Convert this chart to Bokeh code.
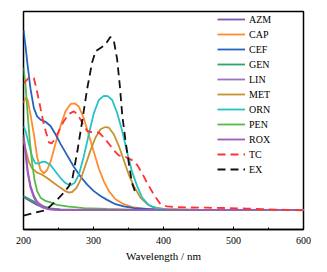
from bokeh.plotting import figure
from bokeh.models import Range1d, Legend, LegendItem, SingleIntervalTicker
from bokeh.embed import file_html
from bokeh.resources import INLINE

# ---- data ----
azm_x = [200, 210, 219.5, 229, 238.6, 252.9, 300, 400, 500, 600]
azm_y = [14.9, 13.0, 11.3, 10.0, 9.25, 9.0, 9.0, 9.0, 9.0, 9.0]

cap_x = [200, 202.9, 206, 210, 214.8, 219.5, 224.3, 229, 233.8, 238.6, 245.7, 252.9, 260, 267, 272.9,
         279, 286, 293, 300.5, 307.6, 314.8, 322, 331.4, 343.3, 357.6, 372, 391, 450, 600]
cap_y = [57.9, 60.4, 59.4, 52.7, 43.7, 33.3, 27.3, 25.8, 27.3, 31.0, 39.3, 47.5, 54.2, 57.5, 57.9,
         56.4, 51.2, 43.7, 35.5, 28.0, 22.1, 17.6, 13.9, 11.6, 10.1, 9.4, 9.1, 9.0, 9.0]

cef_x = [200, 202.9, 206, 210, 214.8, 219.5, 224.3, 231.4, 238.6, 245.7, 252.9, 262.4, 271.9, 281.4,
         291, 300.5, 310, 319.5, 331.4, 343.3, 357.6, 376.7, 405, 500, 600]
cef_y = [91.5, 84.0, 75.0, 64.6, 55.7, 51.9, 50.4, 49.4, 47.5, 43.7, 39.3, 34.0, 28.8, 24.3,
         20.6, 17.6, 15.4, 13.6, 11.6, 10.6, 9.85, 9.4, 9.1, 9.0, 9.0]

gen_x = [200, 210, 219.5, 229, 238.6, 252.9, 286, 400, 600]
gen_y = [15.4, 13.6, 12.1, 10.6, 9.7, 9.25, 9.0, 9.0, 9.0]

lin_x = [200, 202.9, 206, 210, 214.8, 219.5, 226.7, 236.2, 252.9, 400, 600]
lin_y = [42.2, 34.8, 25.8, 19.1, 14.6, 12.1, 10.1, 9.25, 9.0, 9.0, 9.0]

met_x = [200, 202.9, 207.6, 212.4, 219.5, 226.7, 233.8, 243.3, 252.9, 260, 264.8, 269.5, 275.7, 281.4,
         288.6, 295.7, 302.9, 310, 317, 322, 329, 336, 343.3, 350.5, 357.6, 367, 376.7, 386, 400.5, 450, 600]
met_y = [40.7, 37.0, 31.0, 28.0, 26.1, 25.1, 23.6, 21.3, 19.1, 17.6, 16.9, 17.2, 19.1, 22.8,
         29.6, 36.3, 42.2, 46.0, 47.0, 46.7, 43.7, 38.5, 31.8, 25.1, 19.9, 14.6, 11.6, 10.1, 9.4, 9.0, 9.0]

orn_x = [200, 202.9, 207.6, 212.4, 217.1, 221.9, 226.7, 231.4, 238.6, 245.7, 252.9, 260, 267, 272.9,
         279, 286, 293.3, 300.5, 307.6, 314.8, 320.5, 326.7, 333.8, 341, 348, 355, 362.4, 369.5, 379,
         391, 405, 450, 600]
orn_y = [47.5, 45.2, 39.3, 33.3, 30.3, 30.3, 31.0, 31.0, 29.6, 26.6, 23.6, 21.3, 20.3, 21.3,
         25.1, 33.3, 43.7, 53.4, 59.4, 61.3, 61.2, 59.4, 53.4, 45.2, 35.5, 26.6, 19.9, 14.6, 11.2,
         9.7, 9.25, 9.0, 9.0]

pen_x = [200, 202.9, 206, 209, 212.4, 215.7, 219.5, 224.3, 231.4, 238.6, 248, 262.4, 286, 319.5, 357.6, 420, 600]
pen_y = [74.3, 66.1, 52.7, 40.7, 30.3, 22.8, 17.6, 14.6, 13.1, 12.4, 11.3, 10.6, 9.85, 9.4, 9.1, 9.0, 9.0]

rox_x = [200, 202.9, 206, 210, 214.8, 219.5, 226.7, 236.2, 252.9, 400, 600]
rox_y = [43.5, 36.0, 27.0, 20.0, 15.5, 12.8, 10.6, 9.5, 9.0, 9.0, 9.0]

tc_x = [200, 207.6, 212, 214.8, 219.5, 224.3, 229, 236.2, 240, 243.3, 250.5, 257.6, 264.8, 271.9, 277.6, 283.8,
        291, 298, 307.6, 314.8, 322, 329, 336, 345.7, 355, 362.4, 369.5, 376.7, 386, 395.7, 405,
        414.8, 433.8, 462, 491, 519.5, 548, 576.7, 600]
tc_y = [66.9, 69.5, 69.9, 69.5, 63.1, 55.7, 48.2, 40.0, 39.5, 40.7, 45.2, 49.7, 53.0, 54.2, 52.7, 49.0,
        45.2, 44.5, 44.5, 42.2, 39.3, 36.3, 34.0, 33.3, 31.8, 29.6, 25.8, 21.3, 16.1, 11.6, 10.6,
        10.3, 10.1, 10.0, 9.85, 9.6, 9.3, 9.0, 8.8]

ex_x = [200, 215, 229, 236, 246, 255, 265, 270, 277, 284, 291, 298, 303, 310, 317, 324, 329,
        333.8, 337.6, 341, 345.7, 350.5, 355, 360]
ex_y = [6.4, 7.6, 8.7, 10.1, 13.0, 16.0, 19.9, 23.6, 36.0, 50.0, 64.6, 76.6, 81.8, 83.3, 84.8, 88.3, 86.7,
        78.0, 66.0, 52.7, 40.7, 30.3, 21.3, 16.9]

names = ["AZM", "CAP", "CEF", "GEN", "LIN", "MET", "ORN", "PEN", "ROX", "TC", "EX"]
colors = ["#7f55b0", "#ff8c2e", "#2563bf", "#2fa56c", "#9a72c6", "#c8922e", "#26c2c6",
          "#58b84a", "#a457b6", "#ff3333", "#111111"]
series = [(azm_x, azm_y), (cap_x, cap_y), (cef_x, cef_y), (gen_x, gen_y), (lin_x, lin_y),
          (met_x, met_y), (orn_x, orn_y), (pen_x, pen_y), (rox_x, rox_y), (tc_x, tc_y), (ex_x, ex_y)]

FONT = "Liberation Serif"

p = figure(width=318, height=264, output_backend="svg", toolbar_location=None,
           x_range=Range1d(200, 600), y_range=Range1d(0, 100),
           min_border_left=23, min_border_right=15, min_border_top=11, min_border_bottom=30)
p.background_fill_color = "white"
p.border_fill_color = "white"
p.xgrid.visible = False
p.ygrid.visible = False
p.yaxis.visible = False
p.outline_line_color = "black"
p.outline_line_width = 1.5
p.outline_line_alpha = 1.0

xa = p.xaxis[0]
xa.ticker = SingleIntervalTicker(interval=100, num_minor_ticks=2)
xa.axis_line_color = "black"
xa.axis_line_width = 1.5
xa.major_tick_in = 3
xa.major_tick_out = 0
xa.minor_tick_in = 2
xa.minor_tick_out = 0
xa.major_tick_line_width = 1
xa.minor_tick_line_width = 1
xa.major_label_text_font = FONT
xa.major_label_text_font_size = "10px"
xa.major_label_text_color = "black"
xa.major_label_standoff = 7
xa.axis_label = "Wavelength / nm"
xa.axis_label_text_font = FONT
xa.axis_label_text_font_style = "normal"
xa.axis_label_text_font_size = "11px"
xa.axis_label_text_color = "black"
xa.axis_label_standoff = 3

items = []
for name, col, (xs, ys) in zip(names, colors, series):
    dash = "solid"
    if name in ("TC", "EX"):
        dash = "8 5"
    r = p.line(xs, ys, line_color=col, line_width=1.8, line_dash=dash)
    items.append(LegendItem(label=name, renderers=[r]))

legend = Legend(items=items, location=(194, 53))
legend.background_fill_alpha = 0
legend.border_line_alpha = 0
legend.padding = 0
legend.margin = 0
legend.spacing = 1
legend.glyph_width = 28
legend.glyph_height = 14
legend.label_height = 14
legend.label_standoff = 4
legend.label_text_font = FONT
legend.label_text_font_size = "10px"
legend.label_text_color = "black"
p.add_layout(legend, "center")

open("out.html", "w").write(file_html(p, INLINE))
